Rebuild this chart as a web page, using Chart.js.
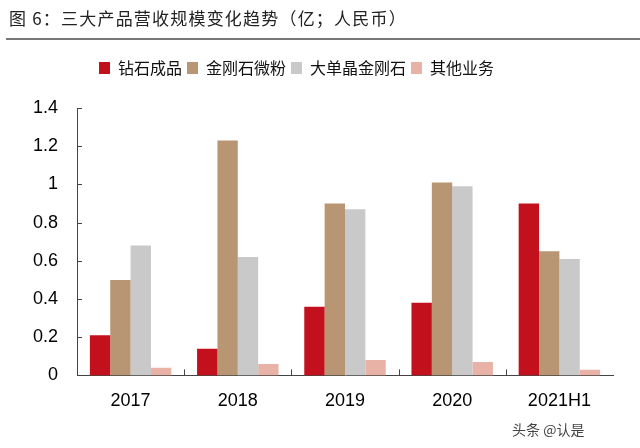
<!DOCTYPE html>
<html lang="zh-CN">
<head>
  <meta charset="UTF-8">
  <title>三大产品营收规模变化趋势</title>
  <script src="https://cdn.jsdelivr.net/npm/chart.js"></script>
  <style>
    body { margin: 0; background: #fff; }
    #wrap { position: relative; width: 640px; height: 448px; }
    #title { position: absolute; left: 9px; top: 5px; font: 17px "Noto Sans CJK SC"; letter-spacing: 1.2px; color: #222; }
    #rule { position: absolute; left: 6px; right: 0; top: 38px; height: 2px; background: #777; }
    #mark { position: absolute; left: 512px; top: 419px; font: 14px "Noto Sans CJK SC"; color: #444; }
  </style>
</head>
<body>
  <div id="wrap">
    <canvas id="chart" width="640" height="448"></canvas>
    <div id="title">图 6：三大产品营收规模变化趋势（亿；人民币）</div>
    <div id="rule"></div>
    <div id="mark">头条 @认是</div>
  </div>

  <script>
    // 数据（亿元）
    const years = ['2017', '2018', '2019', '2020', '2021H1'];
    const diamondProducts = [0.21, 0.14, 0.36, 0.38, 0.90]; // 钻石成品
    const microPowder = [0.50, 1.23, 0.90, 1.01, 0.65];     // 金刚石微粉
    const singleCrystal = [0.68, 0.62, 0.87, 0.99, 0.61];   // 大单晶金刚石
    const otherBusiness = [0.04, 0.06, 0.08, 0.07, 0.03];   // 其他业务

    const axisColor = '#444';

    // 刻度线画在坐标轴内侧
    const innerTicks = {
      id: 'innerTicks',
      beforeInit(chart) {
        // 图例下方多留一点空白
        const fit = chart.legend.fit;
        chart.legend.fit = function () {
          fit.call(this);
          this.height += 22;
        };
      },
      afterLayout(chart) {
        // 图例整体略微左移
        chart.legend.left -= 10;
        chart.legend.right -= 10;
      },
      afterDraw(chart) {
        const { ctx, chartArea, scales: { x, y } } = chart;
        ctx.save();
        ctx.strokeStyle = axisColor;
        ctx.lineWidth = 1;
        ctx.beginPath();
        y.ticks.forEach((t, i) => {
          const py = Math.round(y.getPixelForTick(i)) + 0.5;
          ctx.moveTo(chartArea.left, py);
          ctx.lineTo(chartArea.left + 5, py);
        });
        for (let i = 1; i < x.ticks.length; i++) {
          const px = Math.round((x.getPixelForTick(i - 1) + x.getPixelForTick(i)) / 2) + 0.5;
          ctx.moveTo(px, chartArea.bottom);
          ctx.lineTo(px, chartArea.bottom - 6);
        }
        ctx.stroke();
        ctx.restore();
      }
    };

    const ctx = document.getElementById('chart').getContext('2d');
    new Chart(ctx, {
      type: 'bar',
      data: {
        labels: years,
        datasets: [
          { label: '钻石成品', data: diamondProducts, backgroundColor: '#C3101D' },
          { label: '金刚石微粉', data: microPowder, backgroundColor: '#B99673' },
          { label: '大单晶金刚石', data: singleCrystal, backgroundColor: '#C9C9C9' },
          { label: '其他业务', data: otherBusiness, backgroundColor: '#E8B2A6' }
        ]
      },
      options: {
        responsive: false,
        animation: false,
        layout: { padding: { top: 55, left: 0, right: 27, bottom: 21 } },
        datasets: {
          bar: { categoryPercentage: 0.76, barPercentage: 1 }
        },
        plugins: {
          legend: {
            labels: {
              boxWidth: 11,
              boxHeight: 12,
              padding: 5,
              color: '#111',
              font: { family: '"Noto Sans CJK SC"', size: 16 }
            }
          },
          tooltip: { enabled: false }
        },
        scales: {
          x: {
            grid: { display: false, drawTicks: false },
            border: { color: axisColor },
            ticks: {
              padding: 15,
              color: '#000',
              font: { family: '"Liberation Sans"', size: 18 }
            }
          },
          y: {
            min: 0,
            max: 1.4,
            grid: { display: false, drawTicks: false },
            border: { color: axisColor },
            afterFit(scale) { scale.width = 77; },
            ticks: {
              stepSize: 0.2,
              padding: 19,
              color: '#000',
              font: { family: '"Liberation Sans"', size: 18 },
              callback: v => String(+v.toFixed(1))
            }
          }
        }
      },
      plugins: [innerTicks]
    });
  </script>
</body>
</html>
